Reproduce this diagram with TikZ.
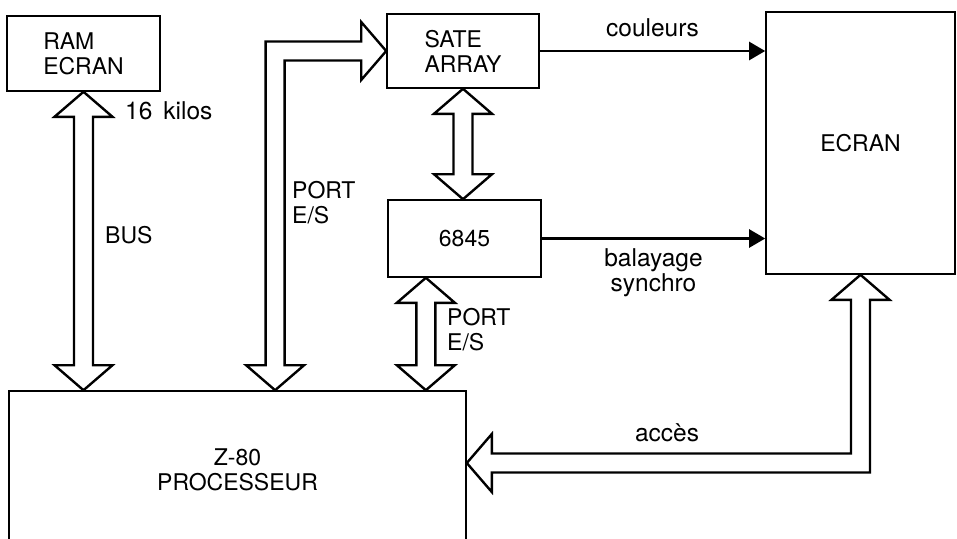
\documentclass[tikz,border=0pt]{standalone}
\usepackage{fontspec}
\setmainfont{TeX Gyre Heros}
\usetikzlibrary{arrows.meta, positioning, calc}

\tikzset{
  box/.style={draw, line width=1.6pt, inner sep=0pt},
  fatarrow/.style={line width=2.4pt, line join=miter, fill=white},
  sig/.style={line width=2.4pt, -{Triangle[length=16pt,width=18pt]}},
  lbl/.style={font=\fontsize{24.5}{25}\selectfont},
}
% vertical double-headed fat arrow, from top tip #1 to bottom tip #2
\newcommand{\vfat}[2]{%
  \draw[fatarrow] (#1) -- ++(29,25) -- ++(-19.5,0) -- ($(#2)+(9.5,-25)$)
    -- ++(19.5,0) -- (#2) -- ++(-29,-25) -- ++(19.5,0)
    -- ($(#1)+(-9.5,25)$) -- ++(-19.5,0) -- cycle;}

\begin{document}
\begin{tikzpicture}[x=1pt, y=-1pt, inner sep=0pt, font=\fontsize{23}{25}\selectfont]
    \useasboundingbox (0,0) rectangle (957,538);
    % blocks
    \node[box, minimum width=153pt, minimum height=75pt, align=left] (ram) at (83.5,53.5) {RAM\\ECRAN};
    \node[box, minimum width=152pt, minimum height=74pt, align=left] (sate) at (463,51) {SATE\\ARRAY};
    \node[box, minimum width=153pt, minimum height=77pt] (crtc) at (464.5,238.5) {6845};
    \node[box, minimum width=189pt, minimum height=262pt] (ecran) at (860.5,143) {ECRAN};
    \node[box, minimum width=457pt, minimum height=158pt, align=center] (cpu) at (237.5,470) {Z-80\\PROCESSEUR};

    % fat arrows
    \vfat{ram.south}{ram.south |- cpu.north}
    \vfat{sate.south}{sate.south |- crtc.north}
    \coordinate (pa) at ($(crtc.south west)!0.25!(crtc.south east)$);
    \vfat{pa}{pa |- cpu.north}
    \coordinate (pb) at ($(cpu.north west)!0.582!(cpu.north east)$);
    \draw[fatarrow] (sate.west) -- ++(-25,-29) -- ++(0,19.5) -- ($(pb |- sate.west)+(-9.5,-9.5)$)
        -- ($(pb)+(-9.5,-25)$) -- ++(-19.5,0) -- (pb) -- ++(29,-25) -- ++(-19.5,0)
        -- ($(pb |- sate.west)+(9.5,9.5)$) -- ($(sate.west)+(-25,9.5)$) -- ++(0,19.5) -- cycle;
    \coordinate (pc) at ([yshift=7pt]cpu.east);
    \draw[fatarrow] (ecran.south) -- ++(29,25) -- ++(-19.5,0) -- ($(ecran.south |- pc)+(9.5,9.5)$)
        -- ($(pc)+(25,9.5)$) -- ++(0,19.5) -- (pc) -- ++(25,-29) -- ++(0,19.5)
        -- ($(ecran.south |- pc)+(-9.5,-9.5)$) -- ($(ecran.south)+(-9.5,25)$) -- ++(-19.5,0) -- cycle;

    % signals to the screen
    \draw[sig] (sate.east) -- node[lbl, above=13pt] (coul) {couleurs} (sate.east -| ecran.west);
    \draw[sig] (crtc.east) -- node[lbl, below=9pt, align=center] (balay) {balayage\\synchro} (crtc.east -| ecran.west);

    % labels
    \node[lbl, anchor=west] (kilos) at (125,111) {16\hspace{0.45em}kilos};
    \node[anchor=west] (bus) at (105,235) {BUS};
    \node[anchor=west, align=left] (porta) at (292,203) {PORT\\E/S};
    \node[anchor=west, align=left] (portb) at (447,330) {PORT\\E/S};
    \node[lbl] (acces) at (667,433) {accès};
\end{tikzpicture}
\end{document}
